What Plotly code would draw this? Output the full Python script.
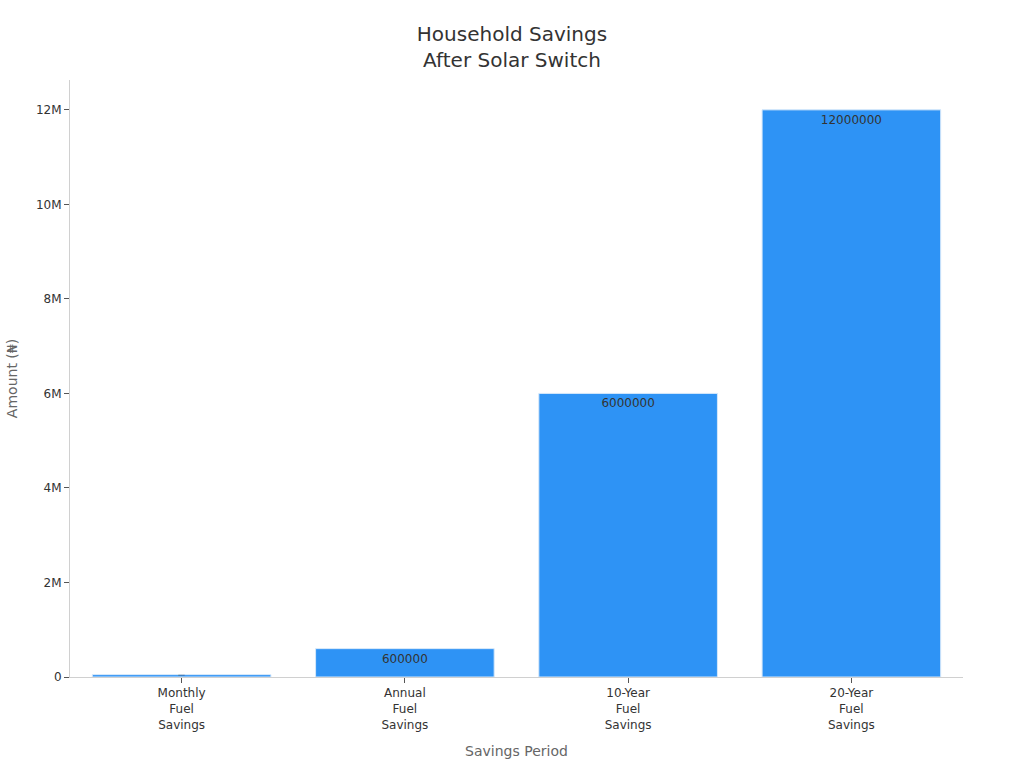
import plotly.graph_objects as go

periods = ["Monthly<br>Fuel<br>Savings", "Annual<br>Fuel<br>Savings",
           "10-Year<br>Fuel<br>Savings", "20-Year<br>Fuel<br>Savings"]
savings = [50000, 600000, 6000000, 12000000]

fig = go.Figure()
fig.add_trace(go.Bar(
    x=periods,
    y=savings,
    text=[str(v) for v in savings],
    textposition="inside",
    insidetextanchor="end",
    textfont=dict(size=12, color="#333333"),
    marker=dict(color="#2E93F5", line=dict(color="#D6E8FA", width=1)),
))

fig.update_layout(
    title=dict(text="Household Savings<br>After Solar Switch", x=0.5, xanchor="center",
               y=0.947, font=dict(size=20, color="#333333")),
    font=dict(family="DejaVu Sans", size=12, color="#333333"),
    plot_bgcolor="white",
    paper_bgcolor="white",
    width=1024,
    height=768,
    margin=dict(l=70, r=61, t=80, b=91),
    bargap=0.2,
    showlegend=False,
)
fig.update_xaxes(
    title=dict(text="Savings Period", font=dict(size=14, color="#666666")),
    showline=True, linecolor="#D0D0D0", ticks="outside", ticklen=5,
    tickcolor="#555555", showgrid=False,
)
fig.update_yaxes(
    title=dict(text="Amount (₦)", font=dict(size=14, color="#666666")),
    showline=True, linecolor="#D0D0D0", ticks="outside", ticklen=5,
    tickcolor="#555555", showgrid=False, zeroline=False,
)

# drop the browser's default page margin so the figure sits at the corner
fig.write_html("out.html", config={"displayModeBar": False},
               post_script="document.body.style.margin='0';")
